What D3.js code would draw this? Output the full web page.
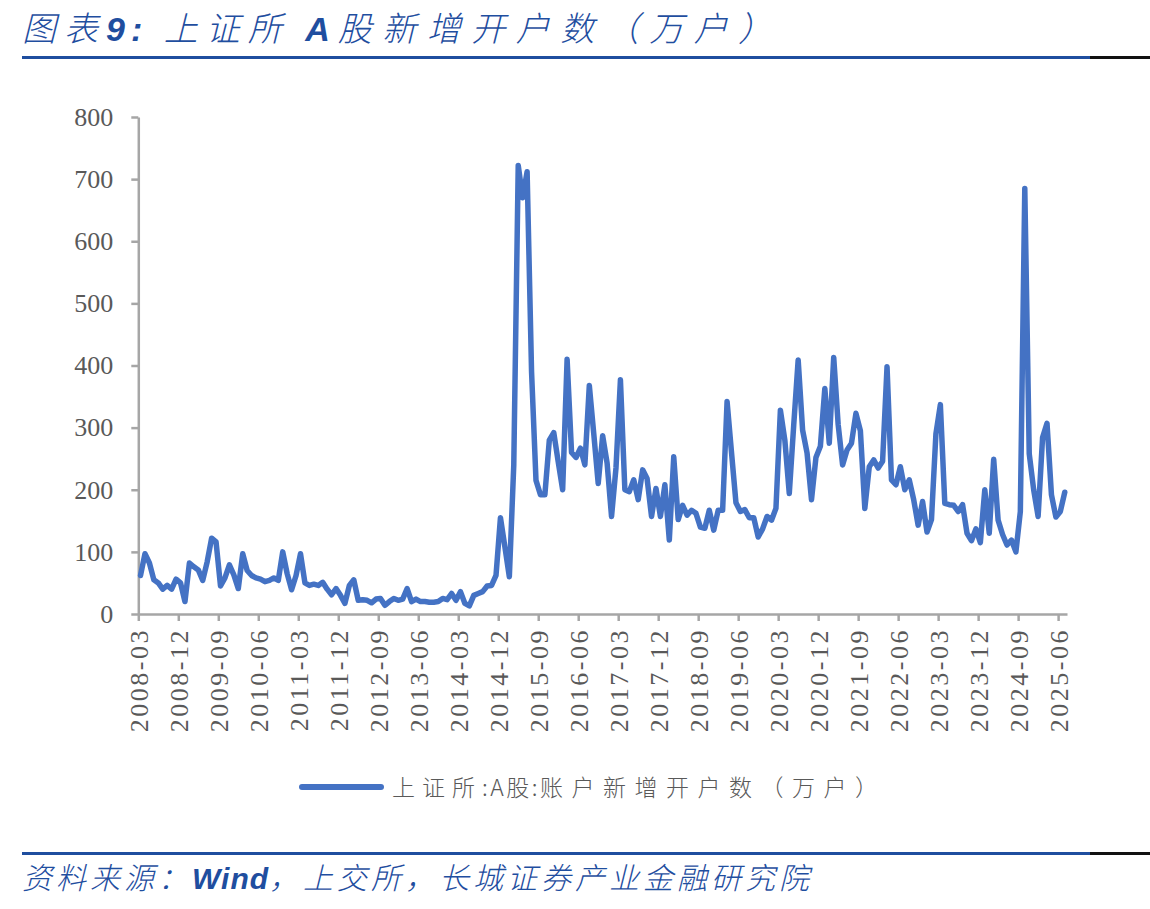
<!DOCTYPE html>
<html><head><meta charset="utf-8">
<script src="https://cdn.jsdelivr.net/npm/d3@7"></script>
<style>body{margin:0;background:#fff}</style>
</head><body>
<svg id="chart" width="1150" height="909"></svg>
<script>
// ---- data ----
const startYear = 2008, startMonth = 3;   // first month of the series
const values = [
  62,97,82,55,50,40,46,40,56,50,                 // 2008-03..2008-12
  20,82,76,71,54,84,122,116,45,58,79,63,         // 2009
  41,97,70,62,58,56,52,54,58,54,100,65,          // 2010
  39,62,97,50,46,48,46,51,40,31,41,30,           // 2011
  17,46,55,22,23,22,18,24,25,14,20,25,           // 2012
  22,24,41,20,24,20,20,19,19,20,25,23,           // 2013
  33,22,36,17,13,30,33,36,45,46,62,155,          // 2014
  108,60,240,722,670,712,390,215,192,192,280,292,// 2015
  245,200,410,260,252,267,240,368,290,210,287,243,// 2016
  157,235,377,200,197,216,184,232,218,157,202,157,// 2017
  208,119,253,152,175,159,167,162,140,138,167,135,// 2018
  167,167,342,260,179,165,168,155,155,124,137,157,// 2019
  151,170,328,280,194,304,409,296,259,184,252,270,// 2020
  363,275,413,305,240,264,275,323,295,170,237,248,// 2021
  235,246,398,216,208,237,200,216,184,143,181,132,// 2022
  152,290,337,178,176,175,165,176,130,118,137,115,// 2023
  200,130,249,151,128,111,119,100,165,685,258,200,// 2024
  157,284,307,192,156,165,196                    // 2025-01..2025-07
];
const tickLabels = ["2008-03","2008-12","2009-09","2010-06","2011-03","2011-12","2012-09","2013-06",
  "2014-03","2014-12","2015-09","2016-06","2017-03","2017-12","2018-09","2019-06","2020-03",
  "2020-12","2021-09","2022-06","2023-03","2023-12","2024-09","2025-06"];
const yTicks = [0,100,200,300,400,500,600,700,800];
const legendParts = [["上证所",7],[":A股:",2.5],["账户新增开户数（万户）",8.5]];
// [text, bold latin, letter-spacing]
const titleParts = [["图表",false,8],["9:",true,6],[" 上证所 ",false,8],["A",true,8],["股新增开户数（万户）",false,10.5]];
const sourceParts = [["资料来源：",false],["Wind",true],["，上交所，长城证券产业金融研究院",false]];

// ---- layout ----
const svg = d3.select("#chart");
const L = 138.3, R = 1067, T = 117, B = 614;
const blue = "#1F4E9F", lineBlue = "#4472C4", axisGray = "#A6A6A6", textGray = "#595959";
const cjk = "'Noto Sans CJK SC','Noto Sans',sans-serif";
const latin = "'Liberation Sans',Arial,sans-serif";
const serif = "'Liberation Serif','DejaVu Serif',serif";

const x = d3.scaleLinear().domain([0, values.length]).range([L, R]);
const y = d3.scaleLinear().domain([0, 800]).range([B, T]);
const monthIndex = s => (+s.slice(0,4) - startYear) * 12 + (+s.slice(5,7) - startMonth);

// title
const title = svg.append("text").attr("x", 22).attr("y", 41)
  .attr("fill", blue).attr("font-size", 34).attr("font-style", "italic")
  .attr("font-family", cjk);
titleParts.forEach(([t, b, ls]) => title.append("tspan").text(t)
  .attr("font-weight", b ? "bold" : 300).attr("letter-spacing", ls)
  .attr("font-family", b ? latin : cjk));
svg.append("rect").attr("x", 22).attr("y", 56).attr("width", 1068).attr("height", 3).attr("fill", blue);
svg.append("rect").attr("x", 1090).attr("y", 56).attr("width", 60).attr("height", 3).attr("fill", "#111");

// footer
svg.append("rect").attr("x", 22).attr("y", 852).attr("width", 1068).attr("height", 3).attr("fill", blue);
svg.append("rect").attr("x", 1090).attr("y", 852).attr("width", 60).attr("height", 3).attr("fill", "#111");
const src = svg.append("text").attr("x", 22).attr("y", 889)
  .attr("fill", blue).attr("font-size", 30).attr("font-style", "italic")
  .attr("font-family", cjk);
sourceParts.forEach(([t, b]) => src.append("tspan").text(t)
  .attr("font-weight", b ? "bold" : 300)
  .attr("letter-spacing", b ? 1 : 4)
  .attr("font-family", b ? latin : cjk));

// axes
const yAxis = svg.append("g").attr("transform", `translate(${L},0)`)
  .call(d3.axisLeft(y).tickValues(yTicks).tickSize(7).tickSizeOuter(0).tickPadding(18));
const xAxis = svg.append("g").attr("transform", `translate(0,${B})`)
  .call(d3.axisBottom(x).tickValues(tickLabels.map(monthIndex)).tickSize(7).tickSizeOuter(0)
    .tickFormat((d, i) => tickLabels[i]));
[yAxis, xAxis].forEach(g => {
  g.select(".domain").attr("stroke", axisGray).attr("stroke-width", 2.5);
  g.selectAll(".tick line").attr("stroke", axisGray).attr("stroke-width", 2.5);
  g.selectAll("text").attr("fill", textGray).attr("font-family", serif).attr("font-size", 26);
});
xAxis.selectAll("text")
  .attr("transform", "rotate(-90)").attr("text-anchor", "end")
  .attr("x", -14).attr("y", 0).attr("dy", "0.35em").attr("letter-spacing", 2.5);

// line
const line = d3.line().x((d, i) => x(i + 0.5)).y(d => y(d));
svg.append("path").datum(values).attr("d", line)
  .attr("fill", "none").attr("stroke", lineBlue).attr("stroke-width", 5.5)
  .attr("stroke-linejoin", "round").attr("stroke-linecap", "round");

// legend
svg.append("line").attr("x1", 302).attr("x2", 381).attr("y1", 787).attr("y2", 787)
  .attr("stroke", lineBlue).attr("stroke-width", 6).attr("stroke-linecap", "round");
const leg = svg.append("text").attr("x", 392).attr("y", 796)
  .attr("fill", textGray).attr("font-size", 23).attr("font-weight", 300).attr("font-family", cjk);
legendParts.forEach(([t, ls]) => leg.append("tspan").text(t).attr("letter-spacing", ls));
</script>
</body></html>
